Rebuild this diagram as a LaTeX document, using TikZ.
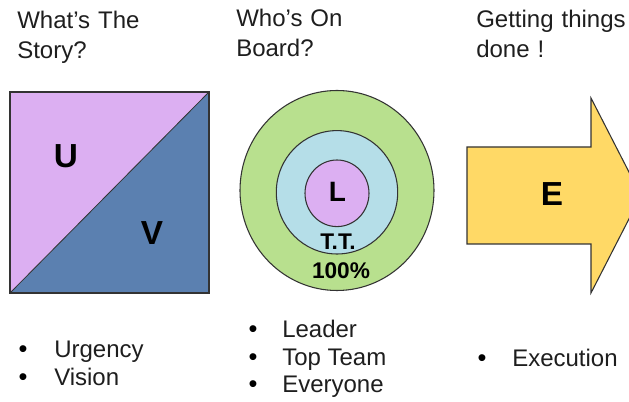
\documentclass[tikz,border=0pt]{standalone}
\usepackage{fontspec}
\setmainfont{Liberation Sans}
\definecolor{lilac}{HTML}{DCAFF2}
\definecolor{steel}{HTML}{5B80B0}
\definecolor{leaf}{HTML}{B8E08E}
\definecolor{sky}{HTML}{B5DEE8}
\definecolor{butter}{HTML}{FFD966}
\definecolor{rim}{HTML}{333333}
\definecolor{ink}{HTML}{1E1E1E}
\begin{document}
\begin{tikzpicture}[x=0.75pt,y=-0.75pt,
	title/.style={text width=5cm, align=left, anchor=base west, inner sep=0pt, text=ink, font=\fontsize{18}{22.5}\selectfont},
	bigletter/.style={inner sep=0pt, font=\fontsize{25}{30}\selectfont\bfseries},
	smallletter/.style={inner sep=0pt, font=\fontsize{17}{20}\selectfont\bfseries},
	item/.style={anchor=base west, inner sep=0pt, text=ink, font=\fontsize{18}{21}\selectfont},
	dot/.style={anchor=base, inner sep=0pt, font=\fontsize{19}{21}\selectfont},
	outline/.style={draw=rim, line width=0.8pt}]
	\useasboundingbox (0,0) rectangle (629,402);
	\clip (0,0) rectangle (629,402);
	% titles
	\node[title] (story) at (17,29) {What's The\\Story?};
	\node[title] (board) at (236,27) {Who's On\\Board?};
	\node[title] (done) at (476,28) {Getting things\\done !};
	% U / V square
	\fill[lilac] (10,293) -- (10,92) -- (209,92) -- cycle;
	\fill[steel] (10,293) -- (209,92) -- (209,293) -- cycle;
	\draw[outline] (10,92) rectangle (209,293);
	\draw[rim, line width=0.6pt] (10,293) -- (209,92);
	\node[bigletter] (u) at (66,156) {U};
	\node[bigletter] (v) at (152,233) {V};
	% rings
	\filldraw[outline, fill=leaf] (337,190.5) ellipse (97 and 100);
	\filldraw[outline, fill=sky] (337,192.3) ellipse (60.7 and 61.7);
	\filldraw[outline, fill=lilac] (337,193.3) ellipse (32 and 33.3);
	\node[smallletter, font=\fontsize{21}{24}\selectfont\bfseries] (l) at (337.5,192) {L};
	\node[smallletter] (tt) at (338,242) {T.T.};
	\node[smallletter] (all) at (341,271) {100\%};
	% arrow
	\filldraw[outline, fill=butter] (467,147) -- (591,147) -- (591,98) -- (641,195.5) -- (591,293) -- (591,244) -- (467,244) -- cycle;
	\node[bigletter] (e) at (552,194) {E};
	% bullets
	\node[dot] (d1) at (23,358) {•};
	\node[item] (urgency) at (54,358) {Urgency};
	\node[dot] (d2) at (23,386) {•};
	\node[item] (vision) at (54,386) {Vision};
	\node[dot] (d3) at (253,338) {•};
	\node[item] (leader) at (282,338) {Leader};
	\node[dot] (d4) at (253,366) {•};
	\node[item] (topteam) at (282,366) {Top Team};
	\node[dot] (d5) at (253,393) {•};
	\node[item] (everyone) at (282,393) {Everyone};
	\node[dot] (d6) at (482,367) {•};
	\node[item] (execution) at (512,367) {Execution};
\end{tikzpicture}
\end{document}
